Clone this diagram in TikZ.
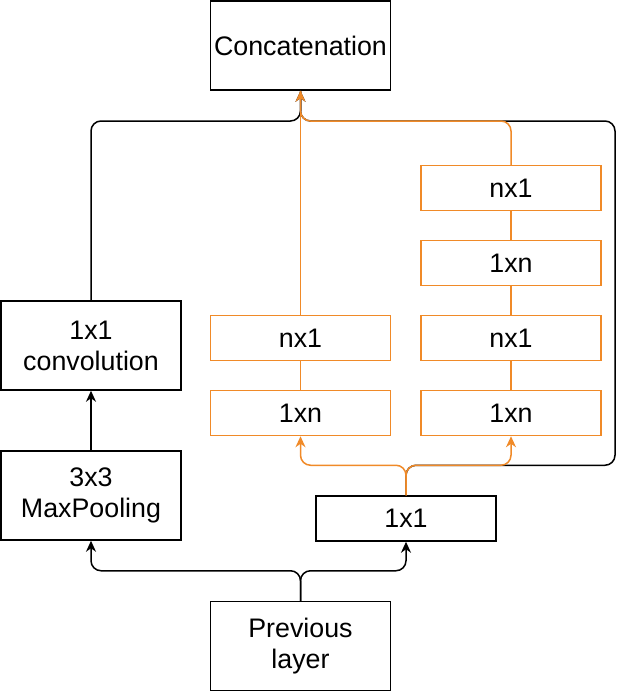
\documentclass[tikz,border=0pt]{standalone}
\usepackage{fontspec}
\setmainfont{Liberation Sans}
\usetikzlibrary{arrows.meta,calc}
\definecolor{org}{RGB}{240,138,40}
\tikzset{
  box/.style={draw, line width=1.5pt, minimum width=180pt, inner sep=0pt, align=center,
    font=\fontsize{26.8}{31}\selectfont},
  bigbox/.style={box, minimum height=89pt},
  smallbox/.style={box, minimum height=45pt},
  obox/.style={smallbox, draw=org},
  conn/.style={line width=1.5pt, rounded corners=10pt},
  arr/.style={conn, -{Stealth[length=11pt,width=10pt,inset=3.5pt]}},
  oconn/.style={conn, color=org},
  oarr/.style={arr, color=org},
}
\begin{document}
\begin{tikzpicture}[x=1pt,y=-1pt]
\useasboundingbox (0,0) rectangle (629,693);
\node[bigbox] (concat) at (300.5,45.5) {Concatenation};
\node[bigbox] (conv) at (91,345.5) {1x1\\convolution};
\node[bigbox] (maxp) at (91,495.5) {3x3\\MaxPooling};
\node[bigbox] (prev) at (300.5,646) {Previous\\layer};
\node[smallbox] (one) at (406,518.5) {1x1};
\node[obox] (m1xn) at (300.5,413) {1xn};
\node[obox] (mnx1) at (300.5,338) {nx1};
\node[obox] (r1xn) at (511,413) {1xn};
\node[obox] (rnx1b) at (511,338) {nx1};
\node[obox] (r1xnb) at (511,263) {1xn};
\node[obox] (rnx1t) at (511,188) {nx1};
\coordinate (j) at (300.5,121);
\coordinate (rc) at (615,121);
% black connectors
\draw[arr] (prev.north) -- ++(0,-30) -| (maxp.south);
\draw[arr] (prev.north) -- ++(0,-30) -| (one.south);
\draw[arr] (maxp.north) -- (conv.south);
\draw[arr] (conv.north) |- (j) -- (concat.south);
\draw[conn] (one.north) -- ++(0,-30) -| (rc) -- (j) -- (concat.south);
% orange connectors
\draw[oarr] (one.north) -- ++(0,-30) -| (m1xn.south);
\draw[oarr] (one.north) -- ++(0,-30) -| (r1xn.south);
\draw[oconn] (m1xn.north) -- (mnx1.south);
\draw[oconn] (r1xn.north) -- (rnx1b.south);
\draw[oconn] (rnx1b.north) -- (r1xnb.south);
\draw[oconn] (r1xnb.north) -- (rnx1t.south);
\draw[oconn] (rnx1t.north) |- (j) -- (concat.south);
\draw[oarr] (mnx1.north) -- (concat.south);
\end{tikzpicture}
\end{document}
